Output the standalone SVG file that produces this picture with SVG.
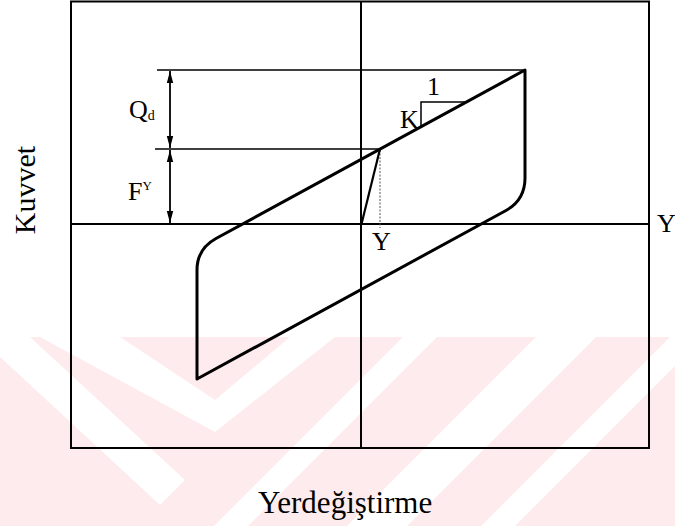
<svg xmlns="http://www.w3.org/2000/svg" width="675" height="526" viewBox="0 0 675 526">
<defs>
<style>
.t{font-family:"Liberation Serif","Times New Roman",serif;fill:#000}
.frame{fill:none;stroke:#000;stroke-width:2}
.axis{stroke:#000;stroke-width:2;fill:none}
.thin{stroke:#000;stroke-width:1.5;fill:none}
.loop{stroke:#000;stroke-width:3;fill:none;stroke-linejoin:round}
.dim{stroke:#000;stroke-width:1.8;fill:none;marker-start:url(#ah);marker-end:url(#ah)}
.wm{fill:#fff}
</style>
<marker id="ah" markerUnits="userSpaceOnUse" markerWidth="13" markerHeight="8" refX="12" refY="4" orient="auto-start-reverse">
<path d="M0,0.8 L12,4 L0,7.2 z" fill="#000"/>
</marker>
</defs>
<rect width="675" height="526" fill="#fff"/>
<g id="watermark">
<rect x="0" y="337" width="675" height="189" fill="#fdebee"/>
<polygon class="wm" points="40,337 120,337 215,400 290,337 335,337 215,432"/>
<polygon class="wm" points="0,357 0,337 30,337 185,480 160,505"/>
<polygon class="wm" points="403,337 437,337 248,526 214,526"/>
<polygon class="wm" points="536,337 596,337 407,526 347,526"/>
<polygon class="wm" points="670,337 704,337 515,526 481,526"/>
</g>
<g id="frame">
<rect class="frame" x="71" y="1.5" width="578" height="446.5"/>
</g>
<g id="axes">
<line class="axis" x1="71" y1="224" x2="649" y2="224"/>
<line class="axis" x1="361" y1="1.5" x2="361" y2="448"/>
</g>
<g id="connectors">
<line class="thin" x1="157" y1="70" x2="525" y2="70"/>
<line class="thin" x1="155" y1="149" x2="380" y2="149"/>
<line class="dim" x1="170" y1="71" x2="170" y2="148"/>
<line class="dim" x1="170" y1="150" x2="170" y2="223"/>
<line x1="380" y1="150" x2="380" y2="228" stroke="#555" stroke-width="1" stroke-dasharray="2,1.5"/>
<line stroke="#000" stroke-width="2.2" x1="361.5" y1="224" x2="380" y2="149"/>
<path class="thin" d="M421,126 V102 H465"/>
</g>
<g id="loop">
<path class="loop" d="M525,70 L216,238.5 Q197,249 197,270 L197,379 L506,210.5 Q525,200 525,178 Z"/>
</g>
<g id="labels">
<text class="t" x="129" y="118" font-size="26">Q<tspan font-size="14" dy="2">d</tspan></text>
<text class="t" x="128" y="200" font-size="26">F<tspan font-size="13" dy="-10">Y</tspan></text>
<text class="t" x="400" y="128" font-size="26">K</text>
<text class="t" x="427" y="95" font-size="26">1</text>
<text class="t" x="372" y="250" font-size="26">Y</text>
<text class="t" x="657" y="232" font-size="26">Y</text>
<text class="t" x="258" y="513" font-size="31">Yerdeğiştirme</text>
<text class="t" transform="translate(35,190) rotate(-90)" text-anchor="middle" font-size="30">Kuvvet</text>
</g>
</svg>
